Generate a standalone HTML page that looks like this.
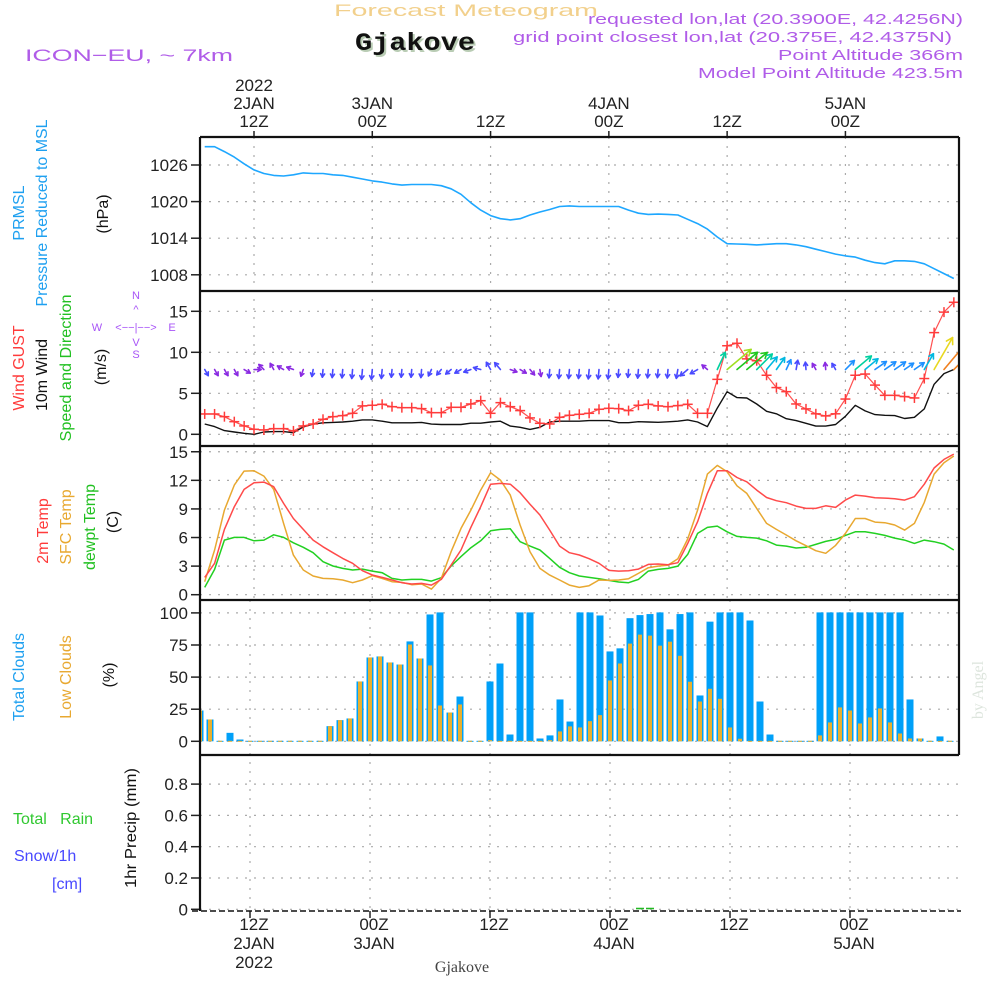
<!DOCTYPE html>
<html><head><meta charset="utf-8"><title>Meteogram Gjakove</title>
<style>
html,body{margin:0;padding:0;background:#fff;}
svg{display:block;font-family:"Liberation Sans",sans-serif;}
</style></head>
<body>
<svg id="chart" width="1000" height="1000" viewBox="0 0 1000 1000">
  <defs><clipPath id="plotclip"><rect x="200" y="137" width="759" height="774"/></clipPath></defs>
  <!-- header -->
  <text x="334" y="16" font-size="17" fill="#f2d08c" textLength="264" lengthAdjust="spacingAndGlyphs">Forecast Meteogram</text>
  <text x="357" y="52" font-size="25" font-weight="bold" fill="#b9ccb4" font-family="Liberation Mono, monospace" textLength="120" lengthAdjust="spacingAndGlyphs">Gjakove</text>
  <text x="355" y="50" font-size="25" font-weight="bold" fill="#111" font-family="Liberation Mono, monospace" textLength="120" lengthAdjust="spacingAndGlyphs">Gjakove</text>
  <text x="25" y="61" font-size="17" fill="#b05ce8" textLength="208" lengthAdjust="spacingAndGlyphs">ICON−EU, ~ 7km</text>
  <text x="963" y="24" font-size="15" fill="#b05ce8" text-anchor="end" textLength="375" lengthAdjust="spacingAndGlyphs">requested lon,lat (20.3900E, 42.4256N)</text>
  <text x="952" y="42" font-size="15" fill="#b05ce8" text-anchor="end" textLength="439" lengthAdjust="spacingAndGlyphs">grid point closest lon,lat (20.375E, 42.4375N)</text>
  <text x="963" y="60" font-size="15" fill="#b05ce8" text-anchor="end" textLength="185" lengthAdjust="spacingAndGlyphs">Point Altitude 366m</text>
  <text x="963" y="78" font-size="15" fill="#b05ce8" text-anchor="end" textLength="265" lengthAdjust="spacingAndGlyphs">Model Point Altitude 423.5m</text>

  <!-- left axis titles -->
  <g font-size="16">
    <text transform="translate(24,213) rotate(-90)" text-anchor="middle" fill="#1ea0f0">PRMSL</text>
    <text transform="translate(47,213) rotate(-90)" text-anchor="middle" fill="#1ea0f0" textLength="187" lengthAdjust="spacingAndGlyphs">Pressure Reduced to MSL</text>
    <text transform="translate(108,214) rotate(-90)" text-anchor="middle" fill="#111">(hPa)</text>
    <text transform="translate(24,368) rotate(-90)" text-anchor="middle" fill="#ff3b3b">Wind GUST</text>
    <text transform="translate(47,375) rotate(-90)" text-anchor="middle" fill="#111">10m Wind</text>
    <text transform="translate(71,368) rotate(-90)" text-anchor="middle" fill="#22c022" textLength="147" lengthAdjust="spacingAndGlyphs">Speed and Direction</text>
    <text transform="translate(106,367) rotate(-90)" text-anchor="middle" fill="#111">(m/s)</text>
    <text transform="translate(48,531) rotate(-90)" text-anchor="middle" fill="#ff3b3b">2m Temp</text>
    <text transform="translate(71,527) rotate(-90)" text-anchor="middle" fill="#e8a830">SFC Temp</text>
    <text transform="translate(95,527) rotate(-90)" text-anchor="middle" fill="#22c022">dewpt Temp</text>
    <text transform="translate(118,522) rotate(-90)" text-anchor="middle" fill="#111">(C)</text>
    <text transform="translate(24,677) rotate(-90)" text-anchor="middle" fill="#1ea0f0">Total Clouds</text>
    <text transform="translate(71,677) rotate(-90)" text-anchor="middle" fill="#e8a830">Low Clouds</text>
    <text transform="translate(114,675) rotate(-90)" text-anchor="middle" fill="#111">(%)</text>
    <text transform="translate(136,828) rotate(-90)" text-anchor="middle" fill="#111" textLength="120" lengthAdjust="spacingAndGlyphs">1hr Precip (mm)</text>
    <text x="13" y="824" fill="#30c830" font-size="16">Total &#160;&#160;Rain</text>
    <text x="14" y="861" fill="#4848ff" font-size="16">Snow/1h</text>
    <text x="52" y="889" fill="#4848ff" font-size="16">[cm]</text>
  </g>
  <!-- compass -->
  <g fill="#a855f7" font-size="11" text-anchor="middle">
    <text x="136" y="299">N</text><text x="136" y="313">^</text>
    <text x="97" y="331">W</text><text x="136" y="331">&lt;−−|−−&gt;</text><text x="172" y="331">E</text>
    <text x="136" y="346">V</text><text x="136" y="358">S</text>
  </g>
  <text transform="translate(983,690) rotate(-90)" text-anchor="middle" font-size="16" fill="#dde5dd" font-family="Liberation Serif, serif">by Angel</text>
  <text x="462" y="972" text-anchor="middle" font-size="16" fill="#444" font-family="Liberation Serif, serif">Gjakove</text>
  <g id="plot"></g>
</svg>
<script>
// ---- data (hourly, h = hours relative to 12Z 2JAN, from -5 to 71) ----
const hours = [];
for (let h = -5; h <= 71; h++) hours.push(h);
const pressure = [1029.0,1029.0,1028.2,1027.3,1026.2,1025.2,1024.6,1024.3,1024.2,1024.4,1024.7,1024.6,1024.6,1024.4,1024.3,1024.0,1023.7,1023.4,1023.2,1022.9,1022.7,1022.8,1022.8,1022.8,1022.6,1022.1,1021.2,1019.8,1018.6,1017.7,1017.2,1017.0,1017.2,1017.8,1018.3,1018.7,1019.2,1019.3,1019.2,1019.2,1019.2,1019.2,1019.2,1018.6,1018.1,1017.9,1017.95,1017.9,1017.8,1017.1,1016.4,1015.5,1014.2,1013.1,1013.05,1013.0,1012.9,1013.0,1013.1,1013.1,1012.9,1012.6,1012.2,1011.8,1011.4,1011.1,1010.9,1010.4,1010.0,1009.8,1010.3,1010.3,1010.2,1009.8,1009.0,1008.2,1007.4];
const windSpeed = [1.26,0.94,0.45,0.28,0.12,0,0.28,0.33,0.33,0.2,0.9,1.25,1.4,1.45,1.5,1.6,1.75,1.75,1.6,1.4,1.4,1.4,1.45,1.25,1.2,1.2,1.2,1.35,1.35,1.5,1.6,1.0,0.85,0.6,0.85,1.5,1.6,1.6,1.6,1.67,1.67,1.67,1.42,1.42,1.54,1.5,1.46,1.52,1.6,1.75,1.5,0.94,3.2,5.2,4.47,4.43,3.7,2.8,2.5,1.9,1.67,1.34,1.0,1.0,1.2,2.2,3.54,2.85,2.4,2.32,2.28,1.93,2.07,3.1,6.1,7.4,7.9];
const windGust = [2.48,2.48,2.15,1.54,1.02,0.61,0.53,0.69,0.69,0.41,1.02,1.26,1.83,2.15,2.28,2.56,3.46,3.54,3.66,3.37,3.25,3.25,3.13,2.64,2.64,3.29,3.29,3.7,4.1,2.56,3.86,3.37,2.89,2.0,1.34,1.26,2.07,2.32,2.44,2.56,3.05,3.17,3.13,2.89,3.54,3.66,3.46,3.37,3.5,3.66,2.56,2.56,6.7,10.8,11.1,9.2,8.97,7.2,5.7,5.2,3.7,3.1,2.5,2.24,2.5,4.3,7.2,7.35,6.0,4.75,4.75,4.6,4.43,6.8,12.4,14.9,16.1];
// arrow pointing angle in degrees (0 = east, 90 = north)
const windArrowDir = [-60,-60,-60,-60,-30,0,135,120,150,160,-110,-100,-95,-95,-95,-95,-95,-95,-95,-95,-95,-95,-95,-115,-130,-140,-150,-160,165,120,130,-20,-30,-50,-80,-95,-95,-95,-95,-95,-95,-95,-95,-95,-95,-95,-95,-95,-100,-140,-150,140,65,40,40,40,45,50,55,65,80,95,120,95,120,45,40,40,35,35,35,35,35,60,60,50,45];
const temp2m = [1.82,3.29,6.85,9.23,11.05,11.75,11.82,11.33,9.58,8.0,6.85,5.73,5.03,4.41,3.81,3.29,2.52,2.07,1.82,1.54,1.26,1.12,1.19,1.01,1.61,3.11,4.69,7.07,9.23,11.6,11.68,11.6,10.7,9.5,8.36,6.78,5.1,4.41,4.17,3.78,3.29,2.55,2.48,2.52,2.69,3.18,3.22,3.15,3.36,5.38,7.66,10.63,13.0,13.0,12.3,11.85,10.98,10.2,9.86,9.65,9.3,9.06,9.06,9.33,9.16,9.93,10.45,10.35,10.17,10.14,10.07,9.93,10.28,11.6,13.3,14.2,14.75];
const tempSfc = [1.36,4.69,8.88,11.5,12.97,13.0,12.45,11.05,7.48,4.16,2.59,1.96,1.71,1.68,1.54,1.26,1.54,1.99,1.71,1.36,1.29,1.05,1.12,0.59,1.71,4.51,6.96,8.88,10.98,12.8,12.03,10.45,7.31,4.51,2.76,2.06,1.54,1.01,0.77,0.94,1.54,1.5,1.54,1.68,2.24,2.83,3.0,3.11,3.78,5.84,8.88,12.66,13.57,12.9,11.43,10.63,9.06,7.48,6.85,6.26,5.66,5.14,4.62,4.34,5.17,6.43,8.0,8.0,7.62,7.55,7.31,6.78,7.48,9.69,12.66,13.85,14.55];
const dewpoint = [0.77,2.66,5.73,6.01,6.01,5.66,5.73,6.29,6.01,5.45,4.97,4.41,3.46,3.01,2.76,2.59,2.69,2.48,2.31,1.71,1.54,1.61,1.61,1.43,1.78,3.01,4.0,4.93,5.66,6.71,6.85,6.92,5.56,5.1,4.69,3.81,2.87,2.31,1.96,1.82,1.68,1.5,1.33,1.26,1.61,2.48,2.66,2.76,3.0,4.23,6.43,7.06,7.2,6.6,6.12,6.01,5.94,5.66,5.2,5.1,4.9,4.97,5.28,5.59,5.8,6.22,6.6,6.6,6.43,6.22,5.94,5.73,5.38,5.73,5.56,5.31,4.69];
// cloud bars: hours -5..70
const cloudHours = [];
for (let h = -5; h <= 70; h++) cloudHours.push(h);
const totalClouds = [23.6,16.6,0,6.2,1,0,0,0,0,0,0,0,0,11.4,16.1,17.4,46.2,64.9,65.7,61,59.4,77.4,64.1,98.4,100,22,34.5,0,0,46.2,60.2,4.9,100,100,1.8,4.2,32.2,15,100,100,97.6,69.6,72,95.5,97.9,98.7,100,86.8,98.7,100,35.3,92.8,100,100,100,93.7,30.6,4.9,0,0,0,0,100,100,100,100,100,100,100,100,100,32.2,1.8,0,3.4,0];
const lowClouds = [23.6,16.6,0,0,0,0,0,0,0,0,0,0,0,11.4,16.1,17.4,46.2,64.9,65.7,61,59.4,75,64.1,58.7,27.5,22,28.3,0,0,0.5,0,0,0,0,0,0.5,7.3,11.2,10.4,15.3,20,47,60.2,75.7,82.7,81.9,74.1,77.2,66.2,46,30.6,40.5,32.7,10.4,1.6,0,0,0,0,0,0,0,4.2,14.3,26,23.6,13.5,18.2,25.2,14.3,5.7,1.8,1.8,0,0,0];
const precipTotal = cloudHours.map(h => (h === 39 || h === 40) ? 0.01 : 0);
const pressureTicks = [1008,1014,1020,1026];
const windTicks = [0,5,10,15];
const tempTicks = [0,3,6,9,12,15];
const cloudTicks = [0,25,50,75,100];
const precipTicks = [0,0.2,0.4,0.6,0.8];
const precipTickLabels = ["0","0.2","0.4","0.6","0.8"];
const timeTickHours = [0,12,24,36,48,60];
const topTimeLabels = [["2022","2JAN","12Z"],["3JAN","00Z"],["12Z"],["4JAN","00Z"],["12Z"],["5JAN","00Z"]];
const bottomTimeLabels = [["12Z","2JAN","2022"],["00Z","3JAN"],["12Z"],["00Z","4JAN"],["12Z"],["00Z","5JAN"]];

// ---- scales ----
const L = 200, R = 959;
const xT = h => 254 + 9.857 * h;
const xC = h => 250 + 10 * h;
const yP = v => 165 + (1026 - v) * 6.1;
const yW = v => 434.3 - v * 8.2;
const yT = v => 594.7 - v * 9.53;
const yC = v => 741.3 - v * 1.284;
const yR = v => 909.3 - v * 156.5;
const panels = [[137,291],[291,446],[446,600],[600,755],[755,911]];

const NS = "http://www.w3.org/2000/svg";
const plot = document.getElementById("plot");
function mk(tag, attrs, parent) {
  const e = document.createElementNS(NS, tag);
  for (const k in attrs) e.setAttribute(k, attrs[k]);
  (parent || plot).appendChild(e);
  return e;
}
function txt(x, y, s, attrs, parent) {
  const e = mk("text", Object.assign({x: x, y: y}, attrs || {}), parent);
  e.textContent = s;
  return e;
}

// grid + ticks
function hGrid(ticks, yf, labels, name) {
  const g = mk("g", {});
  
  
  ticks.forEach((t, i) => {
    const y = yf(t);
    mk("line", {x1: L, x2: R, y1: y, y2: y, stroke: "#aaa", "stroke-width": 1.2, "stroke-dasharray": "2,7"}, g);
    mk("line", {x1: 191, x2: L, y1: y, y2: y, stroke: "#222", "stroke-width": 1.5}, g);
    const t2 = txt(188, y + 6, labels ? labels[i] : String(t), {"text-anchor": "end", "font-size": 17, fill: "#222"}, g);
    
    
  });
}
hGrid(pressureTicks, yP, null, "pressure");
hGrid(windTicks, yW, null, "wind");
hGrid(tempTicks, yT, null, "temp");
hGrid(cloudTicks, yC, null, "cloud");
hGrid(precipTicks, yR, precipTickLabels, "precip");

// vertical grid
timeTickHours.forEach(h => {
  mk("line", {x1: xT(h), x2: xT(h), y1: 137, y2: 600, stroke: "#aaa", "stroke-width": 1.2, "stroke-dasharray": "2,7"});
  mk("line", {x1: xC(h), x2: xC(h), y1: 600, y2: 911, stroke: "#aaa", "stroke-width": 1.2, "stroke-dasharray": "2,7"});
  mk("line", {x1: xT(h), x2: xT(h), y1: 131, y2: 137, stroke: "#222", "stroke-width": 1.5});
  mk("line", {x1: xC(h), x2: xC(h), y1: 911, y2: 918, stroke: "#222", "stroke-width": 1.5});
});
// time labels
const topAx = mk("g", {"font-size": 17, fill: "#222", "text-anchor": "middle"});


topTimeLabels.forEach((lines, i) => {
  const n = lines.length;
  lines.forEach((s, j) => txt(xT(timeTickHours[i]), 127 - (n - 1 - j) * 18, s, {}, topAx));
});
const botAx = mk("g", {"font-size": 17, fill: "#222", "text-anchor": "middle"});


bottomTimeLabels.forEach((lines, i) => {
  lines.forEach((s, j) => txt(xC(timeTickHours[i]) + 4, 930 + j * 19, s, {}, botAx));
});

const data = mk("g", {"clip-path": "url(#plotclip)"});



function polyline(xs, ys, color, w, name) {
  const pts = xs.map((x, i) => x.toFixed(1) + "," + ys[i].toFixed(1)).join(" ");
  const e = mk("polyline", {points: pts, fill: "none", stroke: color, "stroke-width": w, "stroke-linejoin": "round"}, data);
  
  
  return e;
}
// pressure
polyline(hours.map(xT), pressure.map(yP), "#1ea7ff", 1.6, "pressure-line");
// wind
polyline(hours.map(xT), windSpeed.map(yW), "#111", 1.4, "wind-speed-line");
polyline(hours.map(xT), windGust.map(yW), "#ff5050", 1.2, "wind-gust-line");
const gustG = mk("g", {stroke: "#ff3b3b", "stroke-width": 1.5}, data);


hours.forEach((h, i) => {
  const x = xT(h), y = yW(windGust[i]);
  mk("line", {x1: x - 5, x2: x + 5, y1: y, y2: y}, gustG);
  mk("line", {x1: x, x2: x, y1: y - 5, y2: y + 5}, gustG);
});
function arrowColor(s) {
  if (s < 1.2) return "#8a2be2";
  if (s < 1.8) return "#4a4aff";
  if (s < 2.5) return "#1e90ff";
  if (s < 3.2) return "#00b8e0";
  if (s < 4.0) return "#00d0a0";
  if (s < 4.8) return "#20c820";
  if (s < 5.6) return "#a0e020";
  if (s < 7.0) return "#e8d820";
  return "#f08020";
}
const arrG = mk("g", {"stroke-width": 1.6, "stroke-linecap": "round", fill: "none"}, data);


hours.forEach((h, i) => {
  const s = windSpeed[i];
  const len = Math.max(7, 6.2 * s - 1);
  const a = windArrowDir[i] * Math.PI / 180;
  const x0 = xT(h), y0 = yW(7.9);
  const x1 = x0 + len * Math.cos(a), y1 = y0 - len * Math.sin(a);
  const hl = Math.min(7, 3 + len * 0.12);
  const c = arrowColor(s);
  const g = mk("g", {stroke: c}, arrG);
  
  
  mk("line", {x1: x0, y1: y0, x2: x1, y2: y1}, g);
  [2.6, -2.6].forEach(d => {
    mk("line", {x1: x1, y1: y1, x2: x1 + hl * Math.cos(a + d), y2: y1 - hl * Math.sin(a + d)}, g);
  });
});
// temperature
polyline(hours.map(xT), dewpoint.map(yT), "#22d022", 1.5, "dewpoint-line");
polyline(hours.map(xT), tempSfc.map(yT), "#e8a830", 1.5, "sfc-temp-line");
polyline(hours.map(xT), temp2m.map(yT), "#ff4a4a", 1.5, "temp-2m-line");
// clouds
const cG = mk("g", {}, data);


cloudHours.forEach((h, i) => {
  const x = xC(h);
  const tv = totalClouds[i], lv = lowClouds[i];
  const b = mk("rect", {x: x - 3.5, y: yC(tv) - 0.5, width: 7, height: Math.max(1, yC(0) - yC(tv) + 0.5), fill: "#00a0f8"}, cG);
  
  
  const o = mk("rect", {x: x - 2, y: yC(lv) - 0.5, width: 4, height: Math.max(1, yC(0) - yC(lv) + 0.5), fill: "#e8b030"}, cG);
  
  
});
// precip
const pG = mk("g", {}, data);


cloudHours.forEach((h, i) => {
  if (precipTotal[i] <= 0) return;
  const r = mk("rect", {x: xC(h) - 4, y: yR(precipTotal[i]), width: 8, height: Math.max(1.5, yR(0) - yR(precipTotal[i])), fill: "#22b822"}, pG);
  
  
});
const base = mk("line", {x1: 192, x2: R + 2, y1: 911, y2: 911, stroke: "#111", "stroke-width": 1.6, "stroke-dasharray": "6,3"});



// frames
panels.forEach((p, i) => {
  const f = mk("g", {stroke: "#111", "stroke-width": 2.2, fill: "none"});
  
  
  mk("line", {x1: L, x2: L, y1: p[0], y2: p[1]}, f);
  if (i < 4) mk("line", {x1: R, x2: R, y1: p[0], y2: p[1]}, f);
  mk("line", {x1: L, x2: R, y1: p[0], y2: p[0]}, f);
});
</script>
</body></html>
